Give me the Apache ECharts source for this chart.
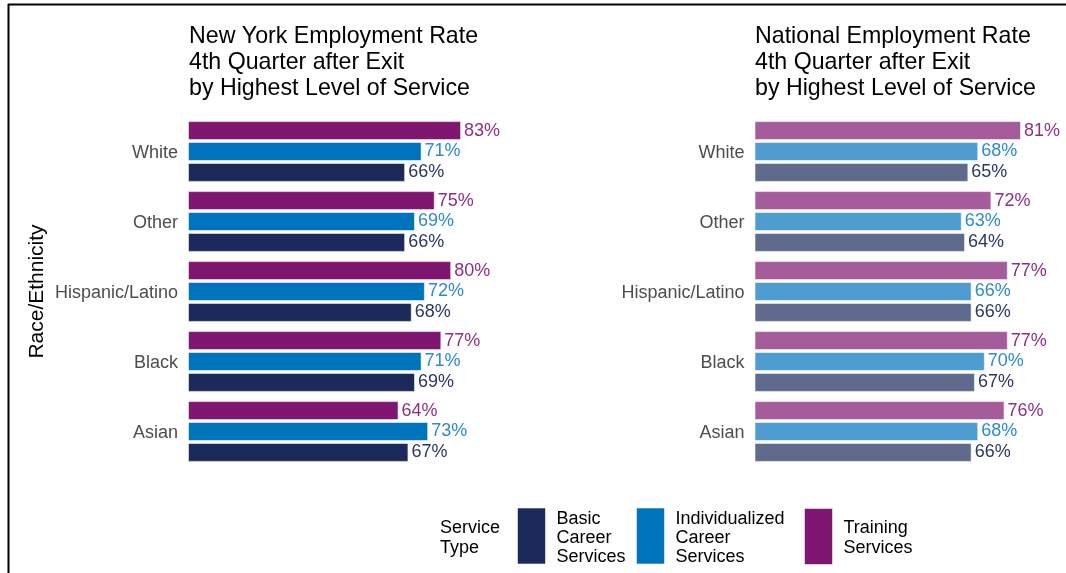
<!DOCTYPE html>
<html>
<head>
<meta charset="utf-8">
<script src="https://cdn.jsdelivr.net/npm/echarts@6/dist/echarts.min.js"></script>
<style>
  html, body { margin: 0; padding: 0; background: #fff; }
  #chart { width: 1066px; height: 573px; }
</style>
</head>
<body>
<div id="chart"></div>
<script>
// Race/ethnicity groups, top to bottom
const categories = ['White', 'Other', 'Hispanic/Latino', 'Black', 'Asian'];

// New York employment rate (%), 4th quarter after exit
const nyTraining = [83, 75, 80, 77, 64];
const nyIndividualized = [71, 69, 72, 71, 73];
const nyBasic = [66, 66, 68, 69, 67];

// National employment rate (%), 4th quarter after exit
const natTraining = [81, 72, 77, 77, 76];
const natIndividualized = [68, 63, 66, 70, 68];
const natBasic = [65, 64, 66, 67, 66];

// Service types and their legend labels
const serviceNames = ['Training Services', 'Individualized Career Services', 'Basic Career Services'];
const legendLines = {
  'Basic Career Services': ['Basic', 'Career', 'Services'],
  'Individualized Career Services': ['Individualized', 'Career', 'Services'],
  'Training Services': ['Training', 'Services']
};

const FONT = "'Liberation Sans', Arial, sans-serif";
const fullColors = { 'Training Services': '#7F1670', 'Individualized Career Services': '#0073BD', 'Basic Career Services': '#1B2A5A' };
// national panel uses the same hues at 70% strength
const softColors = { 'Training Services': '#A55C9B', 'Individualized Career Services': '#4D9DD1', 'Basic Career Services': '#5F6A8C' };
// value label text colours
const labelColors = { 'Training Services': '#8E2F84', 'Individualized Career Services': '#2C8AD0', 'Basic Career Services': '#2A3765' };

const PX_PER_PCT = 3.29;
const X_MAX = 90;
const PLOT_W = PX_PER_PCT * X_MAX;

function barSeries(name, values, idx, color) {
  return {
    type: 'bar',
    name: name,
    xAxisIndex: idx,
    yAxisIndex: idx,
    data: values,
    barWidth: 19,
    barGap: '10%',
    itemStyle: { color: color, borderColor: 'rgba(255,255,255,0.55)', borderWidth: 1 },
    label: {
      show: true,
      position: 'right',
      distance: 3,
      formatter: p => p.value + '%',
      color: labelColors[name],
      fontFamily: FONT,
      fontSize: 18
    },
    emphasis: { disabled: true },
    animation: false
  };
}

const nySeriesValues = { 'Training Services': nyTraining, 'Individualized Career Services': nyIndividualized, 'Basic Career Services': nyBasic };
const natSeriesValues = { 'Training Services': natTraining, 'Individualized Career Services': natIndividualized, 'Basic Career Services': natBasic };

const series = [];
serviceNames.forEach(n => series.push(barSeries(n, nySeriesValues[n], 0, fullColors[n])));
serviceNames.forEach(n => series.push(barSeries(n, natSeriesValues[n], 1, softColors[n])));

function valueAxis(gi) {
  return {
    type: 'value', gridIndex: gi, min: 0, max: X_MAX,
    show: false, splitLine: { show: false }
  };
}
function catAxis(gi, withName) {
  const ax = {
    type: 'category', gridIndex: gi, data: categories, inverse: true,
    axisLine: { show: false }, axisTick: { show: false }, splitLine: { show: false },
    axisLabel: {
      color: '#4D4D4D', fontFamily: FONT, fontSize: 18, lineHeight: 20, margin: 10,
      // small spacer line nudges each label down a touch
      formatter: v => '{s| }\n' + v,
      rich: { s: { fontSize: 1, lineHeight: 4 } }
    }
  };
  if (withName) {
    Object.assign(ax, {
      name: 'Race/Ethnicity', nameLocation: 'middle', nameRotate: 90, nameGap: 140,
      nameTextStyle: { color: '#000', fontFamily: FONT, fontSize: 21 }
    });
  }
  return ax;
}

function legendFor(name, left, top, spacer, lineHeight) {
  return {
    data: [name], left: left, top: top, padding: 0, orient: 'vertical',
    icon: 'rect', itemWidth: 28, itemHeight: 56, selectedMode: false,
    itemStyle: { borderColor: 'rgba(255,255,255,0.55)', borderWidth: 1 },
    formatter: n => '{s| }\n' + legendLines[n].join('\n'),
    textStyle: {
      color: '#000', fontFamily: FONT, fontSize: 18, lineHeight: lineHeight, padding: [0, 0, 0, 6],
      rich: { s: { fontSize: 1, lineHeight: spacer } }
    }
  };
}

const titleStyle = { color: '#000', fontFamily: FONT, fontSize: 23.2, lineHeight: 26, fontWeight: 'normal' };

const option = {
  backgroundColor: '#fff',
  animation: false,
  title: [
    { text: 'New York Employment Rate\n4th Quarter after Exit\nby Highest Level of Service', left: 189, top: 24, padding: 0, textStyle: titleStyle },
    { text: 'National Employment Rate\n4th Quarter after Exit\nby Highest Level of Service', left: 755, top: 24, padding: 0, textStyle: titleStyle }
  ],
  grid: [
    { left: 188, top: 116.5, width: PLOT_W, height: 350, containLabel: false },
    { left: 754.5, top: 116.5, width: PLOT_W, height: 350, containLabel: false }
  ],
  xAxis: [valueAxis(0), valueAxis(1)],
  yAxis: [catAxis(0, true), catAxis(1, false)],
  legend: [
    legendFor('Basic Career Services', 517, 505.5, 4, 19),
    legendFor('Individualized Career Services', 636, 505.5, 4, 19),
    legendFor('Training Services', 804, 508, 4, 20)
  ],
  graphic: [
    { type: 'text', left: 440, top: 518, style: { text: 'Service\nType', fill: '#000', font: '18px ' + FONT, lineHeight: 20 } },
    { type: 'line', shape: { x1: 8, y1: 4.5, x2: 1066, y2: 4.5 }, style: { stroke: '#000', lineWidth: 2 } },
    { type: 'line', shape: { x1: 8.5, y1: 4, x2: 8.5, y2: 573 }, style: { stroke: '#000', lineWidth: 2 } }
  ],
  series: series
};

const chart = echarts.init(document.getElementById('chart'), null, { renderer: 'canvas' });
chart.setOption(option);
</script>
</body>
</html>
